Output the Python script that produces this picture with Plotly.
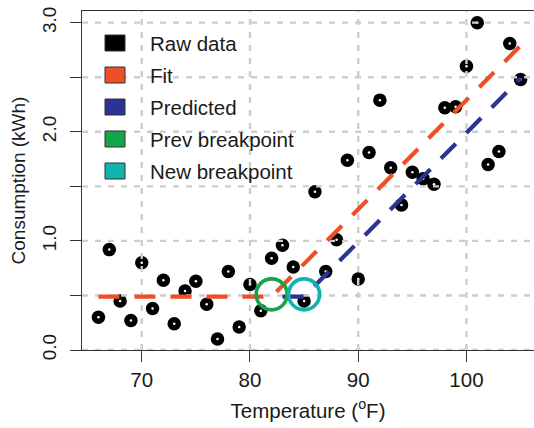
import plotly.graph_objects as go

# ---------------- data ----------------
temperature = [66, 67, 68, 69, 70, 71, 72, 73, 74, 75, 76, 77, 78, 79, 80,
               81, 82, 83, 84, 85, 86, 87, 88, 89, 90, 91, 92, 93, 94, 95,
               96, 97, 98, 99, 100, 101, 102, 103, 104, 105]
consumption = [0.30, 0.92, 0.45, 0.27, 0.80, 0.38, 0.64, 0.24, 0.54, 0.63,
               0.42, 0.10, 0.72, 0.21, 0.60, 0.36, 0.84, 0.96, 0.76, 0.45,
               1.45, 0.72, 1.01, 1.74, 0.65, 1.81, 2.29, 1.67, 1.33, 1.63,
               1.57, 1.52, 2.22, 2.23, 2.60, 3.00, 1.70, 1.82, 2.81, 2.48]

fit_x = [66, 82, 105]
fit_y = [0.49, 0.49, 2.79]
pred_x = [83, 85, 105]
pred_y = [0.49, 0.49, 2.49]

prev_bp_x, prev_bp_y = [82], [0.51]
new_bp_x, new_bp_y = [85], [0.51]

x_ticks = [70, 80, 90, 100]
x_ticktext = ["70", "80", "90", "100"]
y_ticks = [0.0, 1.0, 2.0, 3.0]
y_ticktext = ["0.0", "1.0", "2.0", "3.0"]
y_grid = [0.0, 0.5, 1.0, 1.5, 2.0, 2.5, 3.0]

legend_labels = ["Raw data", "Fit", "Predicted", "Prev breakpoint", "New breakpoint"]
legend_colors = ["#000000", "#EE4F27", "#2B3494", "#12A54A", "#12B3AC"]

X_RANGE = [64.48, 106.24]
Y_RANGE = [0.0, 3.107]

# ---------------- figure ----------------
FONT = "Liberation Sans, Arial, Helvetica, sans-serif"
W, H = 534, 428
ML, MR, MT, MB = 82, 0, 11, 78
HFS = 20.5   # horizontal texts
VFS = 19     # vertical texts

fig = go.Figure()

# raw data points
fig.add_trace(go.Scatter(x=temperature, y=consumption, mode="markers",
                         marker=dict(size=13.5, color=legend_colors[0]),
                         hoverinfo="skip", showlegend=False))
fig.add_trace(go.Scatter(x=temperature, y=consumption, mode="markers",
                         marker=dict(size=2.5, color="white"),
                         hoverinfo="skip", showlegend=False))

# grid (drawn above points like the original)
gx, gy = [], []
for v in x_ticks:
    gx += [v, v, None]
    gy += [Y_RANGE[0], Y_RANGE[1], None]
for v in y_grid:
    gx += [X_RANGE[0], X_RANGE[1], None]
    gy += [v, v, None]
fig.add_trace(go.Scatter(x=gx, y=gy, mode="lines",
                         line=dict(color="#CDCDCD", width=2.4, dash="6px,7px"),
                         hoverinfo="skip", showlegend=False, connectgaps=False))

# fit and predicted lines
fig.add_trace(go.Scatter(x=fit_x, y=fit_y, mode="lines",
                         line=dict(color=legend_colors[1], width=4.2, dash="21px,15px"),
                         hoverinfo="skip", showlegend=False))
fig.add_trace(go.Scatter(x=pred_x, y=pred_y, mode="lines",
                         line=dict(color=legend_colors[2], width=4.2, dash="21px,15px"),
                         hoverinfo="skip", showlegend=False))

# breakpoints
fig.add_trace(go.Scatter(x=prev_bp_x, y=prev_bp_y, mode="markers",
                         marker=dict(symbol="circle-open", size=31,
                                     color=legend_colors[3],
                                     line=dict(width=3.6)),
                         hoverinfo="skip", showlegend=False))
fig.add_trace(go.Scatter(x=new_bp_x, y=new_bp_y, mode="markers",
                         marker=dict(symbol="circle-open", size=31,
                                     color=legend_colors[4],
                                     line=dict(width=3.6)),
                         hoverinfo="skip", showlegend=False))

# legend (manual, R style boxes)
pw, ph = W - ML - MR, H - MT - MB
def px(xp):
    return (xp - ML) / pw
def py(yp):
    return (H - MB - yp) / ph

shapes, annotations = [], []
for i, (lab, col) in enumerate(zip(legend_labels, legend_colors)):
    cy = 43 + 32 * i
    shapes.append(dict(type="rect", xref="paper", yref="paper",
                       x0=px(105), x1=px(125), y0=py(cy + 8), y1=py(cy - 8),
                       fillcolor=col, line=dict(color="#333333", width=1),
                       layer="above"))
    annotations.append(dict(xref="paper", yref="paper", x=px(148), y=py(cy),
                            text=lab, showarrow=False, xanchor="left",
                            yanchor="middle",
                            font=dict(family=FONT, size=HFS, color="#1a1a1a")))

fig.update_layout(
    width=W, height=H,
    margin=dict(l=ML, r=MR, t=MT, b=MB, pad=0),
    paper_bgcolor="white", plot_bgcolor="white",
    font=dict(family=FONT, size=VFS, color="#1a1a1a"),
    shapes=shapes, annotations=annotations,
    showlegend=False,
)
fig.update_xaxes(range=X_RANGE, showgrid=False, zeroline=False,
                 showline=True, linecolor="#333333", linewidth=1.3, mirror=True,
                 ticks="outside", ticklen=11, tickwidth=1.3, tickcolor="#333333",
                 tickvals=x_ticks, ticktext=x_ticktext,
                 tickfont=dict(size=HFS),
                 title=dict(text="Temperature (<sup>o</sup>F)", font=dict(size=HFS),
                            standoff=13))
fig.update_yaxes(range=Y_RANGE, showgrid=False, zeroline=False,
                 showline=True, linecolor="#333333", linewidth=1.3, mirror=False,
                 ticks="outside", ticklen=11, tickwidth=1.3, tickcolor="#333333",
                 tickvals=y_ticks, ticktext=y_ticktext, tickangle=-90,
                 ticklabelstandoff=6,
                 minor=dict(ticks="outside", ticklen=11, tickwidth=1.3,
                            tickcolor="#333333", dtick=0.5, tick0=0,
                            showgrid=False),
                 tickfont=dict(size=VFS),
                 title=dict(text="Consumption (kWh)", font=dict(size=VFS),
                            standoff=8))

fig.write_html("out.html")
